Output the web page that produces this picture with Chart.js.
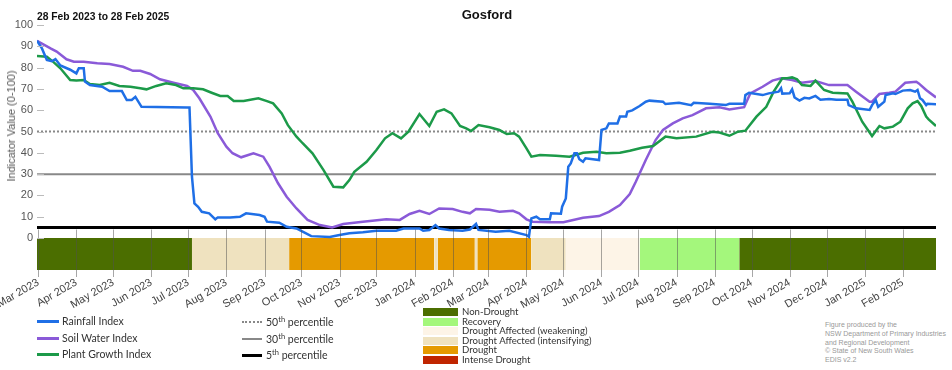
<!DOCTYPE html>
<html>
<head>
<meta charset="utf-8">
<script src="https://cdn.jsdelivr.net/npm/chart.js@4.4.0/dist/chart.umd.min.js"></script>
<style>
  body { margin: 0; background: #fff; font-family: 'Liberation Sans', Arial, sans-serif; }
  #wrap { position: relative; width: 952px; height: 370px; overflow: hidden; }
  #chartBox { position: absolute; left: 0; top: 0; width: 952px; height: 310px; }
  .abs { position: absolute; white-space: nowrap; }
  .title { left: 0; width: 974px; top: 7px; text-align: center; font-weight: bold; font-size: 13px; color: #111; }
  .sub { left: 37px; top: 11px; font-weight: bold; font-size: 10.3px; color: #111; }
  .ytitle { left: 11px; top: 126px; font-size: 11px; color: #555; transform: translate(-50%, -50%) rotate(-90deg); }
  .sline { height: 3px; width: 22px; }
  .stext { font-family: Lato, 'Liberation Sans', sans-serif; font-size: 10.5px; color: #333; line-height: 14px; }
  .sw { width: 35px; height: 8px; }
  .ctext { font-family: Lato, 'Liberation Sans', sans-serif; font-size: 9.6px; color: #333; line-height: 10px; }
  .credit { left: 825px; top: 321px; font-size: 7px; line-height: 8.8px; color: #999; }
  sup { font-size: 7.5px; line-height: 0; }
</style>
</head>
<body>
<div id="wrap">
  <div id="chartBox"><canvas id="chart"></canvas></div>
  <div class="abs title">Gosford</div>
  <div class="abs sub">28 Feb 2023 to 28 Feb 2025</div>
  <div class="abs ytitle">Indicator Value (0-100)</div>
  <div id="legend"></div>
  <div class="abs credit">Figure produced by the<br>NSW Department of Primary Industries<br>and Regional Development<br>© State of New South Wales<br>EDIS v2.2</div>
</div>
<script>
// days counted from 28 Feb 2023
const rainDays = [0,4,8,12,15,19,27,32,34,38,39,43,53,59,69,73,77,80,85,122,124,126,128,131,134,140,145,147,157,165,170,181,185,187,197,203,211,216,223,238,246,254,265,276,292,298,311,314,319,324,327,335,346,352,357,359,373,384,398,400,402,406,409,417,418,426,427,430,432,434,437,439,441,444,446,457,459,463,465,472,474,479,480,484,490,495,498,509,511,522,532,534,547,560,563,575,576,579,590,595,603,605,606,612,614,616,620,624,628,633,637,644,650,659,660,666,677,679,682,684,689,690,696,698,704,710,714,716,718,720,723,724,731];
const rainVals = [92.6,89,83.6,83,84,81,79,77.3,79.7,79.7,73.4,71.8,71,69,69,64.8,64.8,66.3,61.6,61.3,61.3,28.8,16.3,14.7,12.3,11.6,8.8,9.7,9.7,10,11.6,10.8,10,7.7,7.2,5.3,4.5,3,0.9,0.5,1.4,2.2,2.7,3.4,3.4,4.5,4.5,3.4,3.8,6.1,4.5,3.8,3.4,4,6.6,3.8,3,3.4,1.4,0.6,9.2,10,8.8,8.8,11.6,11.4,14.7,18.6,33.5,35,39.8,39.8,37,35.8,37.4,36.6,50.7,51.5,53.8,53.8,57,57,59.3,59.9,62,64,64.5,64,62.9,63.5,62.4,63.5,63,62.4,63,63,67.1,68.2,67.1,67.9,68.7,70.3,67.8,67.9,69.8,66,64.5,65.8,65.5,66.7,64.9,65.3,64.9,64.9,62.4,60.9,60.1,62.4,64.8,61.6,64,67.1,67.9,67.6,69.2,69.5,68.7,69.5,65.6,64.8,62.4,63,62.8];

const soilDays = [0,11,16,24,30,38,49,59,70,78,84,92,100,111,122,127,132,141,147,154,159,166,176,184,189,196,203,211,220,230,240,249,265,284,295,303,311,319,327,338,346,352,357,368,376,387,392,398,403,417,428,436,444,457,465,474,482,487,495,503,509,517,525,533,544,555,563,575,580,590,598,605,614,622,633,644,659,666,677,679,685,693,698,706,715,717,723,731];
const soilVals = [92.6,89,87.5,83.9,82.8,82.8,82,81.7,80.4,78.5,78.5,77,74.5,72.9,71.4,69.5,65.6,57,49.2,42.9,39.8,37.9,39.8,38.2,33.5,25.7,19.4,13.9,8.5,6.1,5,6.6,7.7,8.8,8.5,11.3,12.8,11.3,13.9,13.6,12.3,11.6,13.6,13.3,12.3,12.8,11.6,8.8,7.7,7.4,7.4,8.5,9.5,10.3,12.3,15.5,20.6,26.5,36.6,46,50.7,53.8,56.2,57.7,60.9,61.4,60.4,61.4,67.9,71,73.9,75,74.2,72.9,73.7,71.8,71.8,68.7,64,64,67.6,68.2,68.7,72.9,73.4,72.6,69.5,66];

const plantDays = [0,8,13,19,27,32,38,43,51,59,67,76,84,89,97,105,113,119,127,135,142,149,155,160,168,180,187,192,199,204,211,216,224,233,241,249,254,258,268,276,283,289,296,302,311,319,325,331,337,344,349,353,359,368,376,382,388,392,398,402,409,422,433,438,444,455,463,474,482,492,501,511,520,536,549,555,563,570,576,579,585,593,599,606,610,614,618,622,629,633,640,647,659,663,671,679,685,689,696,702,708,712,716,719,723,725,731];
const plantVals = [85.4,85.1,82.8,79.7,74.2,73.9,74.2,72.3,71.8,72.9,71.4,71,70.3,69.8,71.4,72.6,71.8,70.3,70.3,69.8,68.2,66.7,66.7,64.3,64.3,65.6,64.3,63.2,58.5,53,47.6,44.5,39.8,31.9,24.1,23.8,27.2,31.1,35.8,41.3,46.8,49.2,46.8,49.9,58.2,52.6,59.3,60.4,58.5,52.6,51.5,50.2,53,52,50.7,48.8,49.2,47.6,42.1,38.2,39,38.6,38.2,39,40,40.5,39.8,40,41,42.4,43.2,47.6,46.8,47.6,49.9,49.5,48,49.9,50.4,52.6,57,61.6,68.7,75,75,75.4,74.5,71.8,71.4,73.9,69.5,68.2,67.9,64,54.6,47.9,52.6,51.5,52.3,54.6,60.9,63.2,64.3,62,57,55.7,52.6];

const percentiles = [50, 30, 5];
const percentileNames = ['50', '30', '5'];

// drought category strip
const bandStart = [0,126,205,323,326,356,358,402,430,490,571];
const bandEnd   = [126,205,323,326,356,358,402,430,490,571,731];
const bandCat   = ['Non-Drought','Drought Affected (intensifying)','Drought','Drought Affected (intensifying)','Drought',
                   'Drought Affected (intensifying)','Drought','Drought Affected (intensifying)','Drought Affected (weakening)','Recovery','Non-Drought'];

const categories = ['Non-Drought','Recovery','Drought Affected (weakening)','Drought Affected (intensifying)','Drought','Intense Drought'];
const catColors  = ['#4b6e00','#a4f77c','#fdf4e7','#efe2bf','#e59a00','#c02500'];

const tickLabels = ['Mar 2023','Apr 2023','May 2023','Jun 2023','Jul 2023','Aug 2023','Sep 2023','Oct 2023','Nov 2023','Dec 2023',
  'Jan 2024','Feb 2024','Mar 2024','Apr 2024','May 2024','Jun 2024','Jul 2024','Aug 2024','Sep 2024','Oct 2024','Nov 2024',
  'Dec 2024','Jan 2025','Feb 2025'];
const yTicks = [0,10,20,30,40,50,60,70,80,90,100];

const startDate = Date.UTC(2023, 1, 28);
const monthDays = tickLabels.map((l, i) => (Date.UTC(2023, 2 + i, 1) - startDate) / 86400000);
const totalDays = (Date.UTC(2025, 1, 28) - startDate) / 86400000;

const seriesNames = ['Rainfall Index', 'Soil Water Index', 'Plant Growth Index'];
const seriesColors = ['#1f6fe6', '#8a5ad8', '#1c9a49'];

function pts(days, vals) {
  return days.map((d, i) => ({ x: d, y: vals[i] }));
}

const datasets = [];
[[rainDays, rainVals], [plantDays, plantVals], [soilDays, soilVals]].forEach((s, i) => {
  const idx = [0, 2, 1][i];
  datasets.push({
    label: seriesNames[idx],
    data: pts(s[0], s[1]),
    borderColor: seriesColors[idx],
    borderWidth: 2.5,
    pointRadius: 0,
    tension: 0,
    fill: false,
    order: i + 1
  });
});

const pctStyles = [
  { color: '#888', width: 2, dash: [2, 2] },
  { color: '#888', width: 2, dash: [] },
  { color: '#000', width: 3, dash: [] }
];
percentiles.forEach((p, i) => {
  datasets.push({
    label: percentileNames[i] + 'th percentile',
    data: [{ x: 0, y: p }, { x: totalDays, y: p }],
    borderColor: pctStyles[i].color,
    borderWidth: pctStyles[i].width,
    borderDash: pctStyles[i].dash,
    pointRadius: 0,
    fill: false,
    order: 10
  });
});

bandStart.forEach((s, i) => {
  datasets.push({
    label: bandCat[i],
    data: [{ x: s, y: 0 }, { x: bandEnd[i], y: 0 }],
    borderWidth: 0,
    borderColor: 'rgba(0,0,0,0)',
    backgroundColor: catColors[categories.indexOf(bandCat[i])],
    pointRadius: 0,
    fill: { value: -15 },
    order: 20
  });
});

const tickMarks = {
  id: 'tickMarks',
  afterDatasetsDraw(chart) {
    const { ctx, scales: { x, y }, chartArea } = chart;
    ctx.save();
    ctx.strokeStyle = 'rgba(80,80,80,0.5)';
    ctx.lineWidth = 1;
    monthDays.forEach(d => {
      const px = Math.round(x.getPixelForValue(d)) + 0.5;
      ctx.beginPath();
      ctx.moveTo(px, y.getPixelForValue(4));
      ctx.lineTo(px, chartArea.bottom + 7);
      ctx.stroke();
    });
    ctx.strokeStyle = '#bbb';
    yTicks.forEach(v => {
      const py = Math.round(y.getPixelForValue(v)) + 0.5;
      ctx.beginPath();
      ctx.moveTo(chartArea.left, py);
      ctx.lineTo(chartArea.left + 7, py);
      ctx.stroke();
    });
    ctx.restore();
  }
};

Chart.defaults.font.family = "'Liberation Sans', Arial, sans-serif";

new Chart(document.getElementById('chart'), {
  type: 'line',
  data: { datasets },
  options: {
    responsive: true,
    maintainAspectRatio: false,
    animation: false,
    layout: { padding: { top: 25, right: 16, left: 0, bottom: 0 } },
    plugins: { legend: { display: false }, tooltip: { enabled: false } },
    scales: {
      x: {
        type: 'linear',
        min: 0,
        max: totalDays,
        grid: { display: false, drawTicks: false },
        border: { display: false },
        afterBuildTicks: s => { s.ticks = monthDays.map(v => ({ value: v })); },
        afterFit: s => { s.height = 40; s.paddingLeft = 0; s.paddingRight = 0; },
        ticks: {
          autoSkip: false,
          minRotation: 30,
          maxRotation: 30,
          padding: 6,
          color: '#444',
          font: { size: 11 },
          callback: (v, i) => tickLabels[i]
        }
      },
      y: {
        min: -15,
        max: 100,
        grid: { display: false, drawTicks: false },
        border: { display: false },
        afterBuildTicks: s => { s.ticks = yTicks.map(v => ({ value: v })); },
        afterFit: s => { s.width = 37; },
        ticks: { padding: 4, color: '#555', font: { size: 11 } }
      }
    }
  },
  plugins: [tickMarks]
});

// legends below the chart
const legend = document.getElementById('legend');
const seriesRows = [321, 338, 354];
seriesNames.forEach((n, i) => {
  legend.insertAdjacentHTML('beforeend',
    `<div class="abs sline" style="left:37px;top:${seriesRows[i] - 1}px;background:${seriesColors[i]}"></div>` +
    `<div class="abs stext" style="left:62px;top:${seriesRows[i] - 7}px">${n}</div>`);
});
const pctRows = [322, 339, 355];
percentileNames.forEach((n, i) => {
  const st = pctStyles[i];
  const line = st.dash.length
    ? `border-top:2px dotted ${st.color};height:0;`
    : `background:${st.color};height:${st.width}px;`;
  legend.insertAdjacentHTML('beforeend',
    `<div class="abs" style="left:242px;width:20px;top:${pctRows[i] - 1}px;${line}"></div>` +
    `<div class="abs stext" style="left:266px;top:${pctRows[i] - 7}px">${n}<sup>th</sup> percentile</div>`);
});
categories.forEach((c, i) => {
  const top = 308 + i * 9.5;
  legend.insertAdjacentHTML('beforeend',
    `<div class="abs sw" style="left:423px;top:${top}px;background:${catColors[i]}"></div>` +
    `<div class="abs ctext" style="left:462px;top:${top - 1}px">${c}</div>`);
});
</script>
</body>
</html>
